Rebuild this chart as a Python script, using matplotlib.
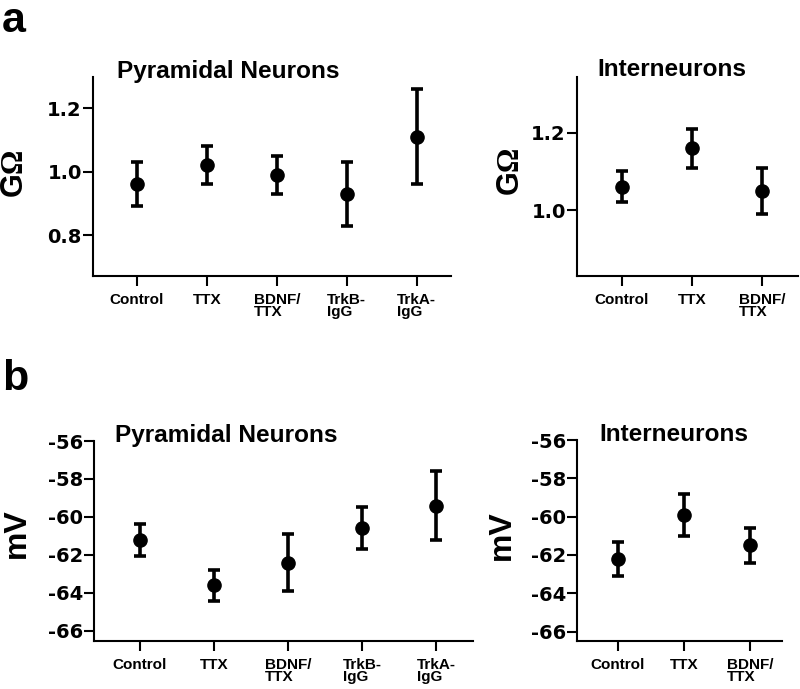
import matplotlib
matplotlib.use("Agg")
import matplotlib.pyplot as plt

# data
pyr_labels = ['Control', 'TTX', 'BDNF/\nTTX', 'TrkB-\nIgG', 'TrkA-\nIgG']
inter_labels = ['Control', 'TTX', 'BDNF/\nTTX']

# a: input resistance (GOhm)
pyr_res_mean = [0.96, 1.02, 0.99, 0.93, 1.11]
pyr_res_err = [0.07, 0.06, 0.06, 0.10, 0.15]
inter_res_mean = [1.06, 1.16, 1.05]
inter_res_err = [0.04, 0.05, 0.06]

# b: resting potential (mV)
pyr_vm_mean = [-61.2, -63.6, -62.4, -60.6, -59.4]
pyr_vm_err = [0.85, 0.8, 1.5, 1.1, 1.8]
inter_vm_mean = [-62.2, -59.9, -61.5]
inter_vm_err = [0.9, 1.1, 0.9]

res_ticks = [0.8, 1.0, 1.2]
res_ticks_inter = [1.0, 1.2]
vm_ticks = [-66, -64, -62, -60, -58, -56]

plt.rcParams['font.family'] = ['Liberation Sans', 'DejaVu Sans']
plt.rcParams['font.weight'] = 'bold'

W, H = 800, 689
fig = plt.figure(figsize=(8, 6.89), dpi=100)


def px_axes(left, right, top, bottom):
    return fig.add_axes([left / W, 1 - bottom / H, (right - left) / W, (bottom - top) / H])


def style(ax, labels, means, errs, xlim, ylim, yticks, yfmt):
    x = list(range(len(labels)))
    ax.errorbar(x, means, yerr=errs, fmt='o', color='black', markersize=9.5,
                elinewidth=2.6, capsize=4.5, capthick=2.6)
    ax.set_xlim(*xlim)
    ax.set_ylim(*ylim)
    ax.set_xticks(x)
    ax.set_xticklabels(labels, fontsize=11, fontweight='bold', linespacing=0.85,
                       multialignment='left')
    ax.set_yticks(yticks)
    ax.set_yticklabels([yfmt.format(v) for v in yticks], fontsize=14, fontweight='bold',
                       family='DejaVu Sans')
    for side in ['top', 'right']:
        ax.spines[side].set_visible(False)
    for side in ['left', 'bottom']:
        ax.spines[side].set_linewidth(1.5)
    ax.tick_params(axis='both', direction='out', length=7, width=1.5)
    ax.tick_params(axis='x', pad=5)
    ax.tick_params(axis='y', pad=1)


def gohm_label(xc, y_g, y_om):
    # G in sans, the omega in a serif face, as in the original
    fig.text(xc / W, 1 - y_g / H, 'G', fontsize=22, fontweight='bold',
             rotation=90, ha='center', va='center')
    fig.text(xc / W, 1 - y_om / H, '\u03a9', fontsize=22, fontweight='bold',
             family='Liberation Serif', rotation=90, ha='center', va='center')


ax1 = px_axes(93, 451, 77, 276)
style(ax1, pyr_labels, pyr_res_mean, pyr_res_err, (-0.63, 4.49), (0.671, 1.298),
      res_ticks, '{:.1f}')

ax2 = px_axes(577, 798, 77, 276)
style(ax2, inter_labels, inter_res_mean, inter_res_err, (-0.643, 2.514), (0.829, 1.345),
      res_ticks_inter, '{:.1f}')

ax3 = px_axes(94, 473, 441, 641)
style(ax3, pyr_labels, pyr_vm_mean, pyr_vm_err, (-0.622, 4.5), (-66.53, -56),
      vm_ticks, '{:d}')

ax4 = px_axes(577, 782, 440, 641)
style(ax4, inter_labels, inter_vm_mean, inter_vm_err, (-0.621, 2.485), (-66.49, -56),
      vm_ticks, '{:d}')

# panel titles
fig.text(117 / W, 1 - 78 / H, 'Pyramidal Neurons', fontsize=17.6, fontweight='bold', va='baseline')
fig.text(597 / W, 1 - 76 / H, 'Interneurons', fontsize=17.6, fontweight='bold', va='baseline')
fig.text(115 / W, 1 - 442 / H, 'Pyramidal Neurons', fontsize=17.6, fontweight='bold', va='baseline')
fig.text(599 / W, 1 - 441 / H, 'Interneurons', fontsize=17.6, fontweight='bold', va='baseline')

# y labels
gohm_label(14, 184, 161)
gohm_label(510, 182, 159)
fig.text(17 / W, 1 - 533 / H, 'mV', fontsize=23, fontweight='bold',
         rotation=90, ha='center', va='center')
fig.text(502 / W, 1 - 535 / H, 'mV', fontsize=23, fontweight='bold',
         rotation=90, ha='center', va='center')

# panel letters
fig.text(2 / W, 1 - 32 / H, 'a', fontsize=31, fontweight='bold', va='baseline')
fig.text(2 / W, 1 - 390 / H, 'b', fontsize=31, fontweight='bold', va='baseline')

fig.savefig('out.png', dpi=100)
